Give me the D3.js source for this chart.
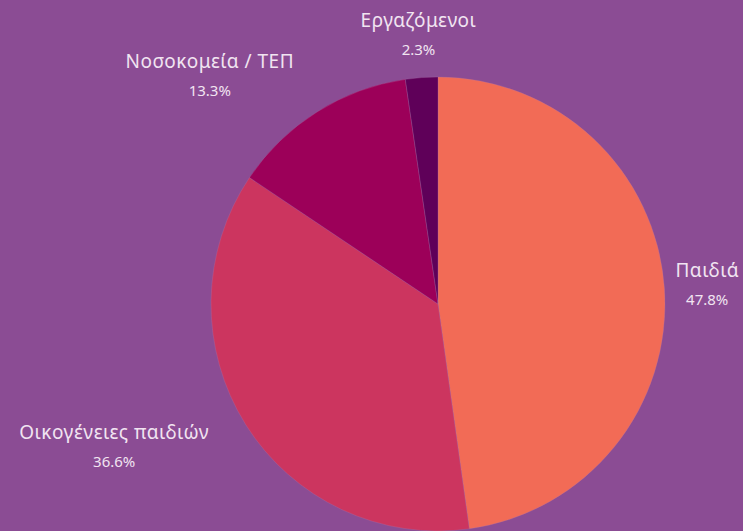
<!DOCTYPE html>
<html>
<head>
<meta charset="utf-8">
<script src="https://cdn.jsdelivr.net/npm/d3@7"></script>
<style>
  html, body { margin: 0; padding: 0; background: #8b4c94; }
  svg { display: block; }
</style>
</head>
<body>
<div id="chart"></div>
<script>
// Datos del gráfico
const categories = ["Παιδιά", "Οικογένειες παιδιών", "Νοσοκομεία / ΤΕΠ", "Εργαζόμενοι"];
const shares = [47.8, 36.6, 13.3, 2.3];
const sliceColors = ["#f26b56", "#cc355f", "#9c0059", "#5f0059"];

const width = 743, height = 531;
const cx = 438, cy = 304;
const radius = 227;
const labelRadius = 270;

const svg = d3.select("#chart").append("svg")
    .attr("width", width)
    .attr("height", height);

svg.append("rect")
    .attr("width", width)
    .attr("height", height)
    .attr("fill", "#8b4c94");

const g = svg.append("g")
    .attr("transform", `translate(${cx}, ${cy})`);

const data = categories.map((c, i) => ({ category: c, value: shares[i] }));

const pie = d3.pie()
    .value(d => d.value)
    .sort(null);

const arc = d3.arc()
    .innerRadius(0)
    .outerRadius(radius);

const labelArc = d3.arc()
    .innerRadius(labelRadius)
    .outerRadius(labelRadius);

const color = d3.scaleOrdinal()
    .domain(categories)
    .range(sliceColors);

const arcs = pie(data);

g.selectAll("path.slice")
    .data(arcs)
    .enter()
    .append("path")
    .attr("class", "slice")
    .attr("d", arc)
    .attr("fill", d => color(d.data.category))
    .attr("stroke", "#b07ab0")
    .attr("stroke-opacity", 0.35)
    .attr("stroke-width", 0.8);

// Etiquetas
const labels = g.selectAll("g.label")
    .data(arcs)
    .enter()
    .append("g")
    .attr("class", "label");

labels.append("text")
    .attr("class", "name")
    .attr("y", -8)
    .attr("text-anchor", "middle")
    .style("font-family", "'Noto Sans', sans-serif")
    .style("font-size", "19px")
    .style("letter-spacing", "0.5px")
    .style("fill", "#f1e4f1")
    .text(d => d.data.category);

labels.append("text")
    .attr("class", "pct")
    .attr("y", 20)
    .attr("text-anchor", "middle")
    .style("font-family", "'Noto Sans', sans-serif")
    .style("font-size", "15px")
    .style("fill", "#f1e4f1")
    .text(d => d.data.value.toFixed(1) + "%");

// Posicionar cada bloque según el lado del gráfico
labels.each(function(d) {
    const [x, y] = labelArc.centroid(d);
    const node = d3.select(this);
    const w = Math.max(
        node.select(".name").node().getComputedTextLength(),
        node.select(".pct").node().getComputedTextLength()
    );
    const mid = (d.startAngle + d.endAngle) / 2;
    const s = Math.sin(mid);
    let centerX;
    if (Math.abs(s) < 0.3) {
        centerX = x;
    } else if (s < 0) {
        centerX = x - w / 2;
    } else {
        centerX = Math.min(x + w / 2, width - cx - 4 - w / 2);
    }
    node.attr("transform", `translate(${centerX}, ${y})`);
});
</script>
</body>
</html>
